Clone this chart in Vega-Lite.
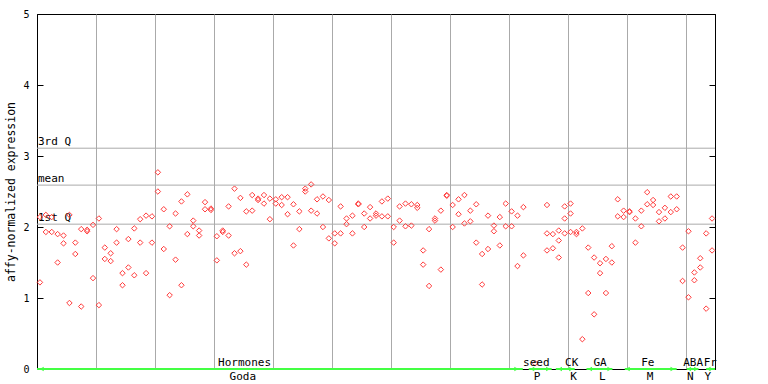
{
  "$schema": "https://vega.github.io/schema/vega-lite/v6.json",
  "width": 678,
  "height": 355,
  "autosize": "none",
  "padding": {"left": 37, "top": 14, "right": 53, "bottom": 15},
  "background": "white",
  "config": {
    "view": {"stroke": "black", "strokeWidth": 1},
    "font": "DejaVu Sans Mono",
    "axis": {"labelFont": "DejaVu Sans Mono", "titleFont": "DejaVu Sans Mono", "labelColor": "black", "titleColor": "black", "titleFontWeight": "normal"}
  },
  "datasets": {
    "pts": [
      {"i":0,"v":2.14},{"i":0,"v":1.22},{"i":1,"v":2.17},{"i":1,"v":1.93},{"i":2,"v":2.14},{"i":2,"v":1.93},
      {"i":3,"v":1.90},{"i":3,"v":1.50},{"i":4,"v":1.88},{"i":4,"v":1.77},{"i":5,"v":2.17},{"i":5,"v":0.93},
      {"i":6,"v":1.78},{"i":6,"v":1.62},{"i":7,"v":1.97},{"i":7,"v":0.88},{"i":8,"v":1.94},{"i":8,"v":1.96},
      {"i":9,"v":2.03},{"i":9,"v":1.28},{"i":10,"v":2.12},{"i":10,"v":0.90},{"i":11,"v":1.71},{"i":11,"v":1.55},
      {"i":12,"v":1.63},{"i":12,"v":1.52},{"i":13,"v":1.97},{"i":13,"v":1.78},{"i":14,"v":1.35},{"i":14,"v":1.18},
      {"i":15,"v":1.83},{"i":15,"v":1.43},{"i":16,"v":1.98},{"i":16,"v":1.32},{"i":17,"v":2.11},{"i":17,"v":1.78},
      {"i":18,"v":2.16},{"i":18,"v":1.35},{"i":19,"v":2.15},{"i":19,"v":1.78},{"i":20,"v":2.77},{"i":20,"v":2.50},
      {"i":21,"v":2.25},{"i":21,"v":1.69},{"i":22,"v":2.01},{"i":22,"v":1.04},{"i":23,"v":2.19},{"i":23,"v":1.54},
      {"i":24,"v":2.36},{"i":24,"v":1.18},{"i":25,"v":2.46},{"i":25,"v":1.90},{"i":26,"v":2.09},{"i":26,"v":2.01},
      {"i":27,"v":1.95},{"i":27,"v":1.88},{"i":28,"v":2.35},{"i":28,"v":2.25},{"i":29,"v":2.26},{"i":29,"v":2.24},
      {"i":30,"v":1.87},{"i":30,"v":1.53},{"i":31,"v":1.95},{"i":31,"v":1.93},{"i":32,"v":2.29},{"i":32,"v":1.88},
      {"i":33,"v":2.54},{"i":33,"v":1.63},{"i":34,"v":2.41},{"i":34,"v":1.66},{"i":35,"v":2.22},{"i":35,"v":1.47},
      {"i":36,"v":2.45},{"i":36,"v":2.23},{"i":37,"v":2.40},{"i":37,"v":2.38},{"i":38,"v":2.45},{"i":38,"v":2.33},
      {"i":39,"v":2.40},{"i":39,"v":2.11},{"i":40,"v":2.39},{"i":40,"v":2.33},{"i":41,"v":2.42},{"i":41,"v":2.31},
      {"i":42,"v":2.42},{"i":42,"v":2.18},{"i":43,"v":2.32},{"i":43,"v":1.74},{"i":44,"v":2.22},{"i":44,"v":1.97},
      {"i":45,"v":2.54},{"i":45,"v":2.50},{"i":46,"v":2.60},{"i":46,"v":2.23},{"i":47,"v":2.39},{"i":47,"v":2.19},
      {"i":48,"v":2.43},{"i":48,"v":2.00},{"i":49,"v":2.38},{"i":49,"v":1.84},{"i":50,"v":1.91},{"i":50,"v":1.77},
      {"i":51,"v":2.29},{"i":51,"v":1.91},{"i":52,"v":2.12},{"i":52,"v":2.04},{"i":53,"v":2.16},{"i":53,"v":1.91},
      {"i":54,"v":2.32},{"i":54,"v":2.33},{"i":55,"v":2.19},{"i":55,"v":2.00},{"i":56,"v":2.28},{"i":56,"v":2.12},
      {"i":57,"v":2.19},{"i":57,"v":2.16},{"i":58,"v":2.36},{"i":58,"v":2.15},{"i":59,"v":2.40},{"i":59,"v":2.15},
      {"i":60,"v":2.00},{"i":60,"v":1.78},{"i":61,"v":2.29},{"i":61,"v":2.09},{"i":62,"v":2.33},{"i":62,"v":2.01},
      {"i":63,"v":2.32},{"i":63,"v":2.02},{"i":64,"v":2.31},{"i":64,"v":2.27},{"i":65,"v":1.67},{"i":65,"v":1.47},
      {"i":66,"v":1.97},{"i":66,"v":1.17},{"i":67,"v":2.12},{"i":67,"v":2.09},{"i":68,"v":2.23},{"i":68,"v":1.40},
      {"i":69,"v":2.44},{"i":69,"v":2.45},{"i":70,"v":2.31},{"i":70,"v":2.00},{"i":71,"v":2.39},{"i":71,"v":2.18},
      {"i":72,"v":2.45},{"i":72,"v":2.05},{"i":73,"v":2.23},{"i":73,"v":2.08},{"i":74,"v":2.32},{"i":74,"v":1.78},
      {"i":75,"v":1.62},{"i":75,"v":1.19},{"i":76,"v":2.16},{"i":76,"v":1.69},{"i":77,"v":2.02},{"i":77,"v":1.94},
      {"i":78,"v":2.14},{"i":78,"v":1.74},{"i":79,"v":2.33},{"i":79,"v":2.01},{"i":80,"v":2.22},{"i":80,"v":2.01},
      {"i":81,"v":2.16},{"i":81,"v":1.45},{"i":82,"v":2.28},{"i":82,"v":1.60},{"i":84,"v":0.08},
      {"i":86,"v":2.31},{"i":86,"v":1.91},{"i":86,"v":1.67},{"i":87,"v":1.90},{"i":87,"v":1.70},
      {"i":88,"v":1.95},{"i":88,"v":1.81},{"i":88,"v":1.57},{"i":89,"v":2.29},{"i":89,"v":2.12},{"i":89,"v":1.91},
      {"i":90,"v":2.33},{"i":90,"v":2.19},{"i":90,"v":1.93},{"i":91,"v":1.93},{"i":91,"v":1.90},
      {"i":92,"v":1.98},{"i":92,"v":0.42},{"i":93,"v":1.71},{"i":93,"v":1.07},{"i":94,"v":1.57},{"i":94,"v":0.77},
      {"i":95,"v":1.49},{"i":95,"v":1.35},{"i":96,"v":1.55},{"i":96,"v":1.07},{"i":97,"v":1.73},{"i":97,"v":1.50},
      {"i":98,"v":2.39},{"i":98,"v":2.15},{"i":99,"v":2.23},{"i":99,"v":2.14},{"i":100,"v":2.21},{"i":100,"v":2.22},
      {"i":101,"v":2.12},{"i":101,"v":1.78},{"i":102,"v":2.23},{"i":102,"v":2.01},{"i":103,"v":2.49},{"i":103,"v":2.32},
      {"i":104,"v":2.38},{"i":104,"v":2.31},{"i":105,"v":2.21},{"i":105,"v":2.08},{"i":106,"v":2.27},{"i":106,"v":2.12},
      {"i":107,"v":2.43},{"i":107,"v":2.21},{"i":108,"v":2.43},{"i":108,"v":2.25},{"i":109,"v":1.71},{"i":109,"v":1.24},
      {"i":110,"v":1.94},{"i":110,"v":1.01},{"i":111,"v":1.36},{"i":111,"v":1.25},{"i":112,"v":1.56},{"i":112,"v":1.43},
      {"i":113,"v":1.91},{"i":113,"v":0.85},{"i":114,"v":2.12},{"i":114,"v":1.67}
    ],
    "qs": [
      {"q": "3rd Q", "v": 3.11},
      {"q": "mean", "v": 2.59},
      {"q": "1st Q", "v": 2.04}
    ],
    "segs": [
      {"g": "Goda", "a": -0.5, "b": 81.9},
      {"g": "P", "a": 82.9, "b": 86.8},
      {"g": "K", "a": 87.5, "b": 90.7},
      {"g": "L", "a": 92.7, "b": 97.1},
      {"g": "M", "a": 99.2, "b": 108},
      {"g": "N", "a": 109.7, "b": 111.7},
      {"g": "Y", "a": 113, "b": 114.5}
    ],
    "arrows": [
      {"x": 0.3, "s": "triangle-left"}, {"x": 80.8, "s": "triangle-right"},
      {"x": 83.5, "s": "triangle-left"}, {"x": 86.2, "s": "triangle-right"},
      {"x": 88.2, "s": "triangle-left"}, {"x": 90.1, "s": "triangle-right"},
      {"x": 93.3, "s": "triangle-left"}, {"x": 96.6, "s": "triangle-right"},
      {"x": 99.7, "s": "triangle-left"}, {"x": 107.3, "s": "triangle-right"},
      {"x": 110.1, "s": "triangle-left"}, {"x": 111.3, "s": "triangle-right"},
      {"x": 113.4, "s": "triangle-left"}
    ],
    "toplab": [
      {"x": 34.7, "t": "Hormones"}, {"x": 84.2, "t": "seed"}, {"x": 90.2, "t": "CK"},
      {"x": 95.0, "t": "GA"}, {"x": 103.1, "t": "Fe"}, {"x": 110.8, "t": "ABA"}, {"x": 113.7, "t": "Fr"}
    ],
    "botlab": [
      {"x": 34.4, "t": "Goda"}, {"x": 84.3, "t": "P"}, {"x": 90.5, "t": "K"},
      {"x": 95.4, "t": "L"}, {"x": 103.5, "t": "M"}, {"x": 110.3, "t": "N"}, {"x": 113.3, "t": "Y"}
    ]
  },
  "resolve": {"axis": {"y": "independent"}},
  "layer": [
    {
      "data": {"name": "qs"},
      "mark": {"type": "rule", "color": "#aaaaaa", "strokeWidth": 1},
      "encoding": {
        "y": {"field": "v", "type": "quantitative", "scale": {"domain": [0, 5], "nice": false, "zero": true},
          "axis": {"orient": "right", "labels": false, "title": null, "grid": false, "values": [0, 1, 2, 3, 4, 5], "tickSize": -6, "tickColor": "black", "domainColor": "black"}}
      }
    },
    {
      "data": {"name": "qs"},
      "mark": {"type": "text", "align": "left", "baseline": "alphabetic", "dy": -3, "dx": 1, "font": "DejaVu Sans Mono", "fontSize": 11, "color": "black"},
      "encoding": {
        "x": {"datum": -0.5, "type": "quantitative"},
        "y": {"field": "v", "type": "quantitative", "axis": null},
        "text": {"field": "q"}
      }
    },
    {
      "data": {"name": "pts"},
      "mark": {"type": "point", "shape": "diamond", "filled": false, "size": 30, "strokeWidth": 1, "color": "#ff3b3b", "opacity": 1},
      "encoding": {
        "x": {"field": "i", "type": "quantitative", "scale": {"domain": [-0.5, 114.5], "nice": false, "zero": false},
          "axis": {"title": null, "labels": false, "ticks": false, "grid": true, "gridColor": "#aaaaaa", "gridWidth": 1, "gridOpacity": 1, "domainColor": "black",
            "values": [9.5, 19.5, 29.5, 39.5, 49.5, 59.5, 69.5, 79.5, 89.5, 99.5, 109.5]}},
        "y": {"field": "v", "type": "quantitative",
          "axis": {"orient": "left", "title": "affy-normalized expression", "titleFontSize": 11.5, "titleX": -26, "titleY": 177.5, "titleAngle": 270, "titleAlign": "center", "titleBaseline": "middle",
            "values": [0, 1, 2, 3, 4, 5], "format": "d", "grid": false, "labelFontSize": 10, "tickSize": -6, "labelPadding": 14, "tickColor": "black", "domainColor": "black"}}
      }
    },
    {
      "data": {"name": "segs"},
      "mark": {"type": "rule", "color": "#44ff44", "strokeWidth": 2},
      "encoding": {
        "x": {"field": "a", "type": "quantitative"},
        "x2": {"field": "b"},
        "y": {"datum": 0, "type": "quantitative", "axis": null}
      }
    },
    {
      "data": {"name": "arrows"},
      "mark": {"type": "point", "filled": true, "size": 22, "color": "#44ff44", "opacity": 1},
      "encoding": {
        "x": {"field": "x", "type": "quantitative"},
        "y": {"datum": 0, "type": "quantitative", "axis": null},
        "shape": {"field": "s", "type": "nominal", "scale": null}
      }
    },
    {
      "data": {"name": "toplab"},
      "mark": {"type": "text", "align": "center", "baseline": "alphabetic", "dy": -3, "font": "DejaVu Sans Mono", "fontSize": 11, "color": "black"},
      "encoding": {
        "x": {"field": "x", "type": "quantitative"},
        "y": {"datum": 0, "type": "quantitative", "axis": null},
        "text": {"field": "t"}
      }
    },
    {
      "data": {"name": "botlab"},
      "mark": {"type": "text", "align": "center", "baseline": "alphabetic", "dy": 11, "font": "DejaVu Sans Mono", "fontSize": 11, "color": "black"},
      "encoding": {
        "x": {"field": "x", "type": "quantitative"},
        "y": {"datum": 0, "type": "quantitative", "axis": null},
        "text": {"field": "t"}
      }
    }
  ]
}
